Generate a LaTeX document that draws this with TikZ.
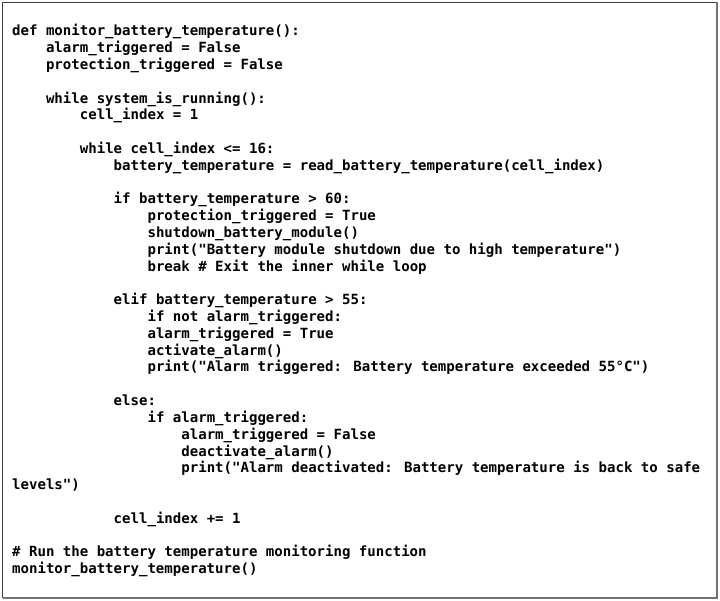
\documentclass[tikz,border=0pt]{standalone}
\usepackage{fontspec}
\newfontfamily\codefont{DejaVu Sans Mono}
\begin{document}
\begin{tikzpicture}[x=1pt,y=1pt]
			\tikzset{codeline/.style={anchor=base west, inner sep=0pt, font=\codefont\bfseries\fontsize{14.05}{16.8}\selectfont, text=black}};
			\useasboundingbox (0,0) rectangle (720,-601);
			\fill[white] (0,0) rectangle (720,-601);
			\draw[black!75, line width=1pt] (2.5,-2.5) rectangle (717,-597.5);
			\draw[black!55, line width=2pt] (717,-2.5) -- (717,-597.5) -- (2.5,-597.5);

			\node[codeline] (def) at (12,-35.8) {def monitor\_battery\_temperature():};
			\node[codeline] (alarminit) at (45.84,-52.61) {alarm\_triggered = False};
			\node[codeline] (protinit) at (45.84,-69.42) {protection\_triggered = False};

			\node[codeline] (outer) at (45.84,-103.04) {while system\_is\_running():};
			\node[codeline] (cellinit) at (79.68,-119.85) {cell\_index = 1};

			\node[codeline] (inner) at (79.68,-153.47) {while cell\_index <= 16:};
			\node[codeline] (read) at (113.52,-170.28) {battery\_temperature = read\_battery\_temperature(cell\_index)};

			\node[codeline] (ifhigh) at (113.52,-203.9) {if battery\_temperature > 60:};
			\node[codeline] (protset) at (147.36,-220.71) {protection\_triggered = True};
			\node[codeline] (shutdown) at (147.36,-237.52) {shutdown\_battery\_module()};
			\node[codeline] (printshut) at (147.36,-254.33) {print("Battery module shutdown due to high temperature")};
			\node[codeline] (break) at (147.36,-271.14) {break \# Exit the inner while loop};

			\node[codeline] (elif) at (113.52,-304.76) {elif battery\_temperature > 55:};
			\node[codeline] (ifnot) at (147.36,-321.57) {if not alarm\_triggered:};
			\node[codeline] (alarmset) at (147.36,-338.38) {alarm\_triggered = True};
			\node[codeline] (activate) at (147.36,-355.19) {activate\_alarm()};
			\node[codeline] (printalarm) at (147.36,-372.0) {print("Alarm triggered: Battery temperature exceeded 55°C")};

			\node[codeline] (else) at (113.52,-405.62) {else:};
			\node[codeline] (ifalarm) at (147.36,-422.43) {if alarm\_triggered:};
			\node[codeline] (alarmreset) at (181.2,-439.24) {alarm\_triggered = False};
			\node[codeline] (deactivate) at (181.2,-456.05) {deactivate\_alarm()};
			\node[codeline] (printsafe) at (181.2,-472.86) {print("Alarm deactivated: Battery temperature is back to safe};
			\node[codeline] (levels) at (12,-489.67) {levels")};

			\node[codeline] (increment) at (113.52,-523.29) {cell\_index += 1};

			\node[codeline] (comment) at (12,-556.91) {\# Run the battery temperature monitoring function};
			\node[codeline] (call) at (12,-573.72) {monitor\_battery\_temperature()};
		\end{tikzpicture}
\end{document}
